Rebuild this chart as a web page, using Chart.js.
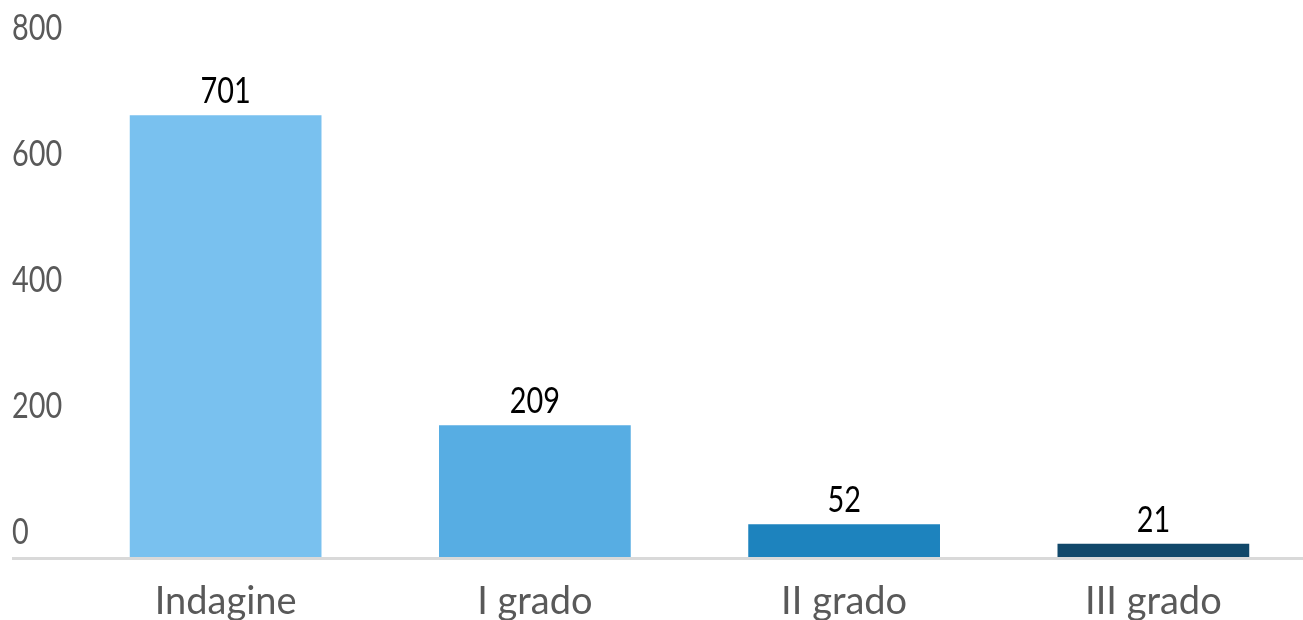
<!DOCTYPE html>
<html>
<head>
<meta charset="utf-8">
<script src="https://cdn.jsdelivr.net/npm/chart.js@4"></script>
<style>
  html, body { margin: 0; padding: 0; background: #fff; overflow: hidden; }
  #wrap { width: 1308px; height: 620px; }
</style>
</head>
<body>
<div id="wrap"><canvas id="barChart"></canvas></div>
<script>
const categories = ["Indagine", "I grado", "II grado", "III grado"];
const values = [701, 209, 52, 21];
const barColors = ["#79c1ef", "#57ade3", "#1d83be", "#11486a"];
const yTicks = [0, 200, 400, 600, 800];

// no narrow face installed, so squeeze Lato horizontally
const NARROW = 0.78;

function drawNarrow(ctx, text, x, y) {
  ctx.save();
  ctx.translate(x, y);
  ctx.scale(NARROW, 1);
  ctx.fillText(text, 0, 0);
  ctx.restore();
}

// value labels above each bar
const valueLabels = {
  id: "valueLabels",
  afterDatasetsDraw(chart) {
    const ctx = chart.ctx;
    const meta = chart.getDatasetMeta(0);
    ctx.save();
    ctx.font = "37px Lato";
    ctx.fillStyle = "#000";
    ctx.textAlign = "center";
    ctx.textBaseline = "alphabetic";
    meta.data.forEach((bar, i) => {
      drawNarrow(ctx, String(values[i]), bar.x, bar.y - 12);
    });
    ctx.restore();
  }
};

// y tick labels sit above their tick, left aligned at the edge
const yLabels = {
  id: "yLabels",
  afterDraw(chart) {
    const ctx = chart.ctx;
    const y = chart.scales.y;
    ctx.save();
    ctx.font = "37px Lato";
    ctx.fillStyle = "#595959";
    ctx.textAlign = "left";
    ctx.textBaseline = "middle";
    yTicks.forEach(v => {
      drawNarrow(ctx, String(v), 12, y.getPixelForValue(v) - 25);
    });
    ctx.restore();
  }
};

// gray baseline running under the bars, out to the left edge
const baseline = {
  id: "baseline",
  afterDatasetsDraw(chart) {
    const ctx = chart.ctx;
    const y0 = chart.scales.y.getPixelForValue(0);
    ctx.save();
    ctx.strokeStyle = "#d9d9d9";
    ctx.lineWidth = 3;
    ctx.beginPath();
    ctx.moveTo(12, y0 + 1.5);
    ctx.lineTo(chart.width, y0 + 1.5);
    ctx.stroke();
    ctx.restore();
  }
};

const ctx = document.getElementById("barChart");
new Chart(ctx, {
  type: "bar",
  data: {
    labels: categories,
    datasets: [{
      data: values,
      backgroundColor: barColors,
      borderWidth: 0,
      barPercentage: 0.62,
      categoryPercentage: 1
    }]
  },
  options: {
    responsive: true,
    maintainAspectRatio: false,
    animation: false,
    layout: { padding: { left: 12, top: 53, right: 0, bottom: 0 } },
    plugins: {
      legend: { display: false },
      tooltip: { enabled: false }
    },
    scales: {
      x: {
        grid: { display: false },
        border: { display: false },
        afterFit(scale) {
          scale.height = 63;
        },
        ticks: {
          color: "#595959",
          padding: 14,
          font: { family: "Lato", size: 38 }
        }
      },
      y: {
        min: 0,
        max: 800,
        grid: { display: false },
        border: { display: false },
        afterBuildTicks(scale) {
          scale.ticks = yTicks.map(v => ({ value: v }));
        },
        afterFit(scale) {
          scale.width = 59;
        },
        ticks: {
          color: "rgba(0,0,0,0)",
          padding: 0
        }
      }
    }
  },
  plugins: [valueLabels, yLabels, baseline]
});
</script>
</body>
</html>
